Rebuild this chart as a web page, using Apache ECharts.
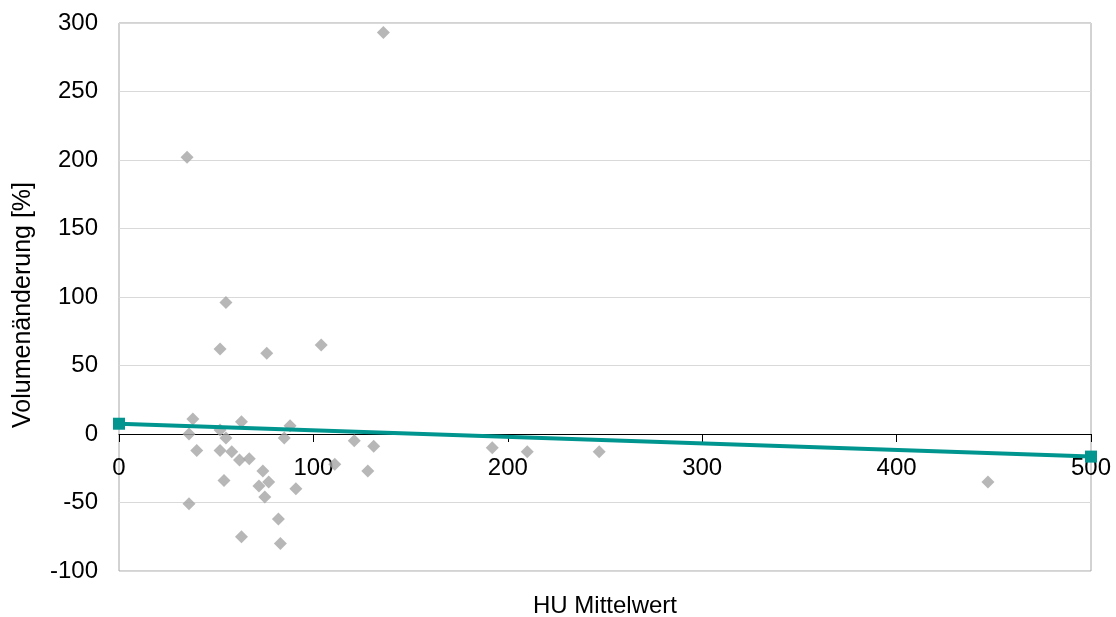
<!DOCTYPE html>
<html>
<head>
<meta charset="utf-8">
<script src="https://cdn.jsdelivr.net/npm/echarts@6/dist/echarts.min.js"></script>
<style>
  html, body { margin: 0; padding: 0; background: #fff; }
  #chart { width: 1116px; height: 617px; }
</style>
</head>
<body>
<div id="chart"></div>
<script>
// HU mean value per lesion
const huMean = [35, 55, 52, 76, 104, 136, 38, 36, 40, 52, 55, 52, 58, 63, 62, 67, 54, 36,
  74, 77, 72, 75, 85, 88, 91, 82, 63, 83, 111, 121, 131, 128, 192, 210, 247, 447];
// volume change in percent for the same lesions
const volumeChange = [202, 96, 62, 59, 65, 293, 11, 0, -12, 3, -3, -12, -13, 9, -19, -18, -34, -51,
  -27, -35, -38, -46, -3, 6, -40, -62, -75, -80, -22, -5, -9, -27, -10, -13, -13, -35];

// linear trend line endpoints
const trendX = [0, 500];
const trendY = [7.5, -16.5];

// axis ranges
const xRange = { min: 0, max: 500, step: 100 };
const yRange = { min: -100, max: 300, step: 50 };

const font = 'Liberation Sans, Arial, sans-serif';
const gridBox = { left: 119, right: 25, top: 23, bottom: 46 };

const chart = echarts.init(document.getElementById('chart'), null, { renderer: 'canvas' });

chart.setOption({
  animation: false,
  backgroundColor: '#ffffff',
  grid: {
    left: gridBox.left, right: gridBox.right, top: gridBox.top, bottom: gridBox.bottom,
    show: true, borderColor: '#a6a6a6', borderWidth: 1
  },
  xAxis: {
    type: 'value',
    min: xRange.min, max: xRange.max, interval: xRange.step,
    axisLine: { show: true, onZero: true, lineStyle: { color: '#000', width: 1 } },
    axisTick: { show: true, length: 8, lineStyle: { color: '#000' } },
    axisLabel: { fontFamily: font, fontSize: 24, color: '#000', margin: 24 },
    splitLine: { show: false }
  },
  yAxis: {
    type: 'value',
    min: yRange.min, max: yRange.max, interval: yRange.step,
    name: 'Volumenänderung [%]',
    nameLocation: 'middle',
    nameGap: 83,
    nameRotate: 90,
    nameTextStyle: { fontFamily: font, fontSize: 25, color: '#000', padding: [0, 16, 0, 0] },
    axisLine: { show: false },
    axisTick: { show: false },
    axisLabel: { fontFamily: font, fontSize: 24, color: '#000', margin: 21 },
    splitLine: { show: true, lineStyle: { color: '#d9d9d9', width: 1 } }
  },
  series: [
    {
      type: 'scatter',
      data: huMean.map((x, i) => [x, volumeChange[i]]),
      symbol: 'diamond',
      symbolSize: 13,
      itemStyle: { color: '#a5a5a5' },
      z: 2
    },
    {
      type: 'line',
      data: trendX.map((x, i) => [x, trendY[i]]),
      symbol: 'rect',
      symbolSize: 12,
      lineStyle: { color: '#00968f', width: 4 },
      itemStyle: { color: '#00968f' },
      z: 3
    }
  ]
});

// keep the x tick labels next to the zero line and the x title under the plot
const zeroPx = chart.convertToPixel({ yAxisIndex: 0 }, 0);
const bottomPx = 617 - gridBox.bottom;
const plotCenterX = (gridBox.left + (1116 - gridBox.right)) / 2;
chart.setOption({
  xAxis: { axisLabel: { margin: 24 - (bottomPx - zeroPx) } },
  graphic: [{
    type: 'text',
    x: plotCenterX,
    y: 606,
    style: {
      text: 'HU Mittelwert',
      font: '24px ' + font,
      fill: '#000',
      align: 'center',
      verticalAlign: 'middle'
    }
  }]
});
</script>
</body>
</html>
